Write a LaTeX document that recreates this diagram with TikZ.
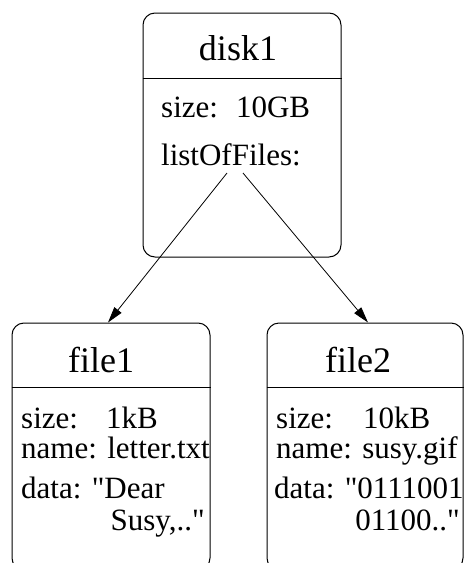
\documentclass[tikz,border=0pt]{standalone}
\usepackage{fontspec}
\setmainfont{Liberation Serif}[Ligatures={TeXOff,NoCommon}]
\usetikzlibrary{arrows.meta, positioning, calc}

\tikzset{
  recbox/.style={draw, rounded corners=12pt, line width=1pt, inner sep=0pt},
  rectitle/.style={font=\fontsize{36}{36}\selectfont, anchor=base, inner sep=0pt},
  recline/.style={font=\fontsize{31}{31}\selectfont, anchor=base west, inner sep=0pt},
  recend/.style={recline, anchor=base east},
  link/.style={-{Triangle[length=16pt,width=9pt]}, line width=0.8pt}
}

\begin{document}
\begin{tikzpicture}[x=1pt, y=-1pt]
	\clip (0, 0) rectangle (464, 563);
	
	% the disk
	\node [recbox, minimum width=198pt, minimum height=244pt] (disk) at (242, 135) {};
	\node [rectitle] (disktitle) at (238, 60) {disk1};
	\draw[line width=1pt] ($(disk.north west)+(0, 66)$) -- ($(disk.north east)+(0, 66)$);
	\node [recline] (disksize) at (161, 117) {size:\hspace{18pt}10GB};
	\node [recline] (disklist) at (161, 165) {listOfFiles:};
	
	% the files
	\node [recbox, minimum width=198pt, minimum height=247pt] (fileone) at (111, 446.5) {};
	\node [rectitle] (fileonetitle) at (101, 372) {file1};
	\draw[line width=1pt] ($(fileone.north west)+(0, 65)$) -- ($(fileone.north east)+(0, 65)$);
	\node [recline] (fileonesize) at (21, 428) {size:\hspace{28pt}1kB};
	\node [recline] (fileonename) at (21, 458) {name: letter.txt};
	\node [recline] (fileonedata) at (21, 498) {data: "Dear};
	\node [recend] (fileonemore) at (205, 530) {Susy,.."};
	
	\node [recbox, minimum width=196pt, minimum height=247pt] (filetwo) at (365, 446.5) {};
	\node [rectitle] (filetwotitle) at (358, 372) {file2};
	\draw[line width=1pt] ($(filetwo.north west)+(0, 65)$) -- ($(filetwo.north east)+(0, 65)$);
	\node [recline] (filetwosize) at (276, 428) {size:\hspace{30pt}10kB};
	\node [recline] (filetwoname) at (276, 458) {name: susy.gif};
	\node [recline] (filetwodata) at (274, 498) {data: "0111001};
	\node [recend] (filetwomore) at (460, 530) {01100.."};
	
	% links out of the list
	\coordinate (listleft) at (227, 173);
	\coordinate (listright) at (243, 173);
	\draw[link] (listleft) -- ([xshift=-3pt]fileone.north);
	\draw[link] (listright) -- ([xshift=3pt]filetwo.north);
\end{tikzpicture}
\end{document}
